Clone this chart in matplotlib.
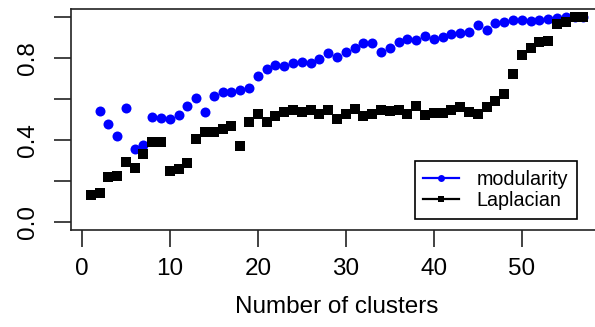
import matplotlib
matplotlib.use("Agg")
import matplotlib.pyplot as plt
from matplotlib.lines import Line2D

plt.rcParams['font.family'] = ['Liberation Sans', 'DejaVu Sans']

# modularity score, defined from 2 clusters upward
mod_k = list(range(2, 58))
modularity = [0.54, 0.48, 0.42, 0.555, 0.355, 0.375, 0.514, 0.505, 0.504,
              0.524, 0.568, 0.603, 0.537, 0.617, 0.635, 0.632, 0.645, 0.655,
              0.713, 0.746, 0.767, 0.763, 0.775, 0.78, 0.775, 0.795, 0.824,
              0.804, 0.832, 0.851, 0.873, 0.876, 0.832, 0.848, 0.878, 0.895,
              0.89, 0.91, 0.893, 0.903, 0.918, 0.922, 0.928, 0.96, 0.935,
              0.972, 0.978, 0.985, 0.985, 0.983, 0.988, 0.99, 0.995, 1.0,
              1.0, 1.0]

# Laplacian score, 1 to 57 clusters
lap_k = list(range(1, 58))
laplacian = [0.13, 0.14, 0.22, 0.223, 0.29, 0.265, 0.33, 0.39, 0.39, 0.25,
             0.257, 0.288, 0.407, 0.439, 0.44, 0.456, 0.467, 0.369, 0.49,
             0.527, 0.49, 0.518, 0.537, 0.548, 0.537, 0.545, 0.529, 0.545,
             0.5, 0.529, 0.553, 0.516, 0.529, 0.548, 0.541, 0.548, 0.525,
             0.566, 0.52, 0.533, 0.533, 0.545, 0.561, 0.537, 0.525, 0.561,
             0.59, 0.625, 0.72, 0.815, 0.85, 0.879, 0.885, 0.968, 0.976,
             1.0, 1.0]

x_ticks = [0, 10, 20, 30, 40, 50]
y_ticks = [0.0, 0.2, 0.4, 0.6, 0.8, 1.0]
y_labels = ['0.0', '', '0.4', '', '0.8', '']

fig = plt.figure(figsize=(5.95, 3.27), dpi=100)
# plot region runs a little past the right edge of the canvas
ax = fig.add_axes([71 / 595, 1 - 230 / 327, 532 / 595, 221 / 327])

ax.plot(mod_k, modularity, 'o', color='blue', ms=7.2, mew=0)
ax.plot(lap_k, laplacian, 's', color='black', ms=7.2, mew=0)

ax.set_xlim(-1.24, 59.24)
ax.set_ylim(-0.04, 1.04)
ax.set_xticks(x_ticks)
ax.set_yticks(y_ticks)
ax.set_yticklabels(y_labels, rotation=90, va='center')
ax.tick_params(axis='both', length=12, width=1.2, labelsize=17.5, color='#222222')
ax.tick_params(axis='x', pad=8.5)
ax.tick_params(axis='y', pad=11)
for s in ax.spines.values():
    s.set_linewidth(1.2)
    s.set_color('#222222')

ax.set_xlabel('Number of clusters', fontsize=17.5, labelpad=11)

handles = [Line2D([], [], color='blue', lw=1.6, marker='o', ms=5, mew=0),
           Line2D([], [], color='black', lw=1.6, marker='s', ms=5, mew=0)]
leg = fig.legend(handles, ['modularity', 'Laplacian'], loc='lower right',
                 bbox_to_anchor=(577 / 595, 1 - 219 / 327),
                 bbox_transform=fig.transFigure, borderaxespad=0,
                 fontsize=14.2, fancybox=False, edgecolor='black',
                 framealpha=1, handlelength=1.8, handletextpad=0.9,
                 borderpad=0.45, labelspacing=0.1)
leg.get_frame().set_linewidth(1.2)

fig.savefig('out.png', dpi=100)
